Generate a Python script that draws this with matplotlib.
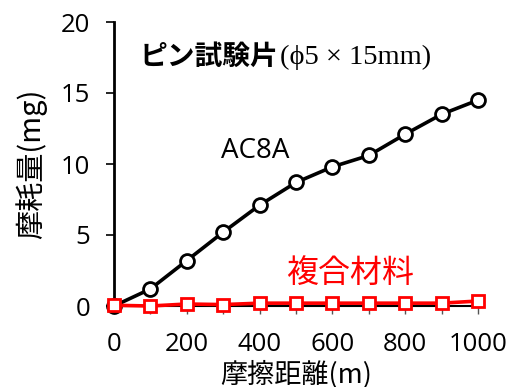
import matplotlib
matplotlib.use("Agg")
import matplotlib.pyplot as plt

distance = [0, 100, 200, 300, 400, 500, 600, 700, 800, 900, 1000]
ac8a = [0, 1.2, 3.2, 5.2, 7.1, 8.7, 9.8, 10.6, 12.1, 13.5, 14.5]
composite = [0.05, 0.0, 0.14, 0.1, 0.2, 0.2, 0.2, 0.2, 0.2, 0.2, 0.35]
xticks = [0, 200, 400, 600, 800, 1000]
yticks = [0, 5, 10, 15, 20]

plt.rcParams['font.family'] = ['Open Sans', 'Noto Sans CJK JP', 'DejaVu Sans']
fig = plt.figure(figsize=(5.09, 3.87), dpi=100)
ax = fig.add_axes([114/509, 1-306/387, (478-114)/509, (306-22)/387])

ax.plot(distance, ac8a, color='black', lw=2.6, marker='o', ms=10,
        mfc='white', mec='black', mew=2.0, clip_on=False, zorder=3)
ax.plot(distance, composite, color='#ff0000', lw=2.6, marker='s', ms=9,
        mfc='white', mec='#ff0000', mew=2.0, clip_on=False, zorder=4)

ax.set_xlim(0, 1000)
ax.set_ylim(0, 20)
ax.set_xticks(range(0, 1001, 100))
ax.set_xticklabels([str(v) if v in xticks else '' for v in range(0, 1001, 100)])
ax.set_yticks(yticks)
ax.spines['top'].set_visible(False)
ax.spines['right'].set_visible(False)
ax.spines['left'].set_linewidth(2)
ax.spines['bottom'].set_linewidth(1.5)
ax.tick_params(axis='x', direction='out', length=6, width=1, color='#555555',
               pad=13, labelsize=18.5)
ax.tick_params(axis='y', direction='out', length=6, width=1.2, pad=11, labelsize=18.5)

ax.set_xlabel('摩擦距離(m)', fontsize=19.5, family=['Noto Sans CJK JP'], labelpad=2)
ax.set_ylabel('摩耗量(mg)', fontsize=21, family=['Noto Sans CJK JP'], labelpad=10)

t1 = fig.text(140/509, 1-57/387, 'ピン試験片', fontsize=20, fontweight='bold',
              family=['Noto Sans CJK JP'], va='center', ha='left')
fig.canvas.draw()
bb = t1.get_window_extent()
fig.text(bb.x1/509 + 0.002, 1-57/387, '(ϕ5 × 15mm)', fontsize=20.5,
         family=['Liberation Serif', 'DejaVu Serif'], va='center', ha='left')
fig.text(221/509, 1-151/387, 'AC8A', fontsize=20, va='center', ha='left')
fig.text(286/509, 1-273/387, '複合材料', fontsize=23, color='#ff0000',
         family=['Noto Sans CJK JP'], va='center', ha='left')

fig.savefig('out.png', dpi=100)
